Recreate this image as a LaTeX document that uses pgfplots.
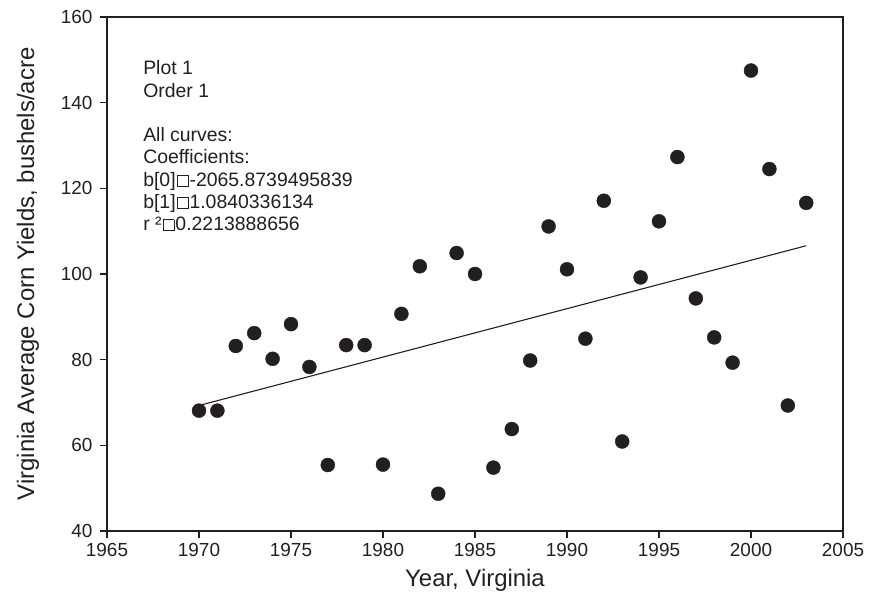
\documentclass[border=0pt]{standalone}
\usepackage{pgfplots}
\pgfplotsset{compat=1.18}
\usepackage{fontspec}
\setmainfont{Liberation Sans}
\definecolor{ink}{HTML}{231F20}
\newcommand\sq{\kern1pt{\fboxrule=0.6pt\fboxsep=0pt\fbox{\rule{0pt}{0.55em}\rule{0.55em}{0pt}}}\kern1pt}
\begin{document}
\begin{tikzpicture}
\begin{axis}[
  name=ax,
  scale only axis,
  width=736bp, height=514bp,
  xmin=1965, xmax=2005, ymin=40, ymax=160,
  xtick={1965,1970,...,2005},
  ytick={40,60,...,160},
  axis line style={ink, line width=1.1pt},
  tick style={ink, line width=1.1pt},
  tick align=outside,
  major tick length=7bp,
  xtick pos=bottom, ytick pos=left,
  /pgf/number format/assume math mode=true,
  /pgf/number format/1000 sep={},
  ticklabel style={font=\fontsize{19}{22}\selectfont, text=ink},
  xticklabel style={yshift=-2bp},
  yticklabel style={xshift=-4bp},
  xlabel={Year, Virginia},
  ylabel={Virginia Average Corn Yields, bushels/acre},
  label style={font=\fontsize{24}{28}\selectfont, text=ink},
  xlabel style={at={(axis description cs:0.5,-0.0953)}, anchor=center},
  ylabel style={at={(axis description cs:-0.1073,0.5)}, anchor=center},
  clip=false,
]
\addplot[only marks, mark=*, mark size=7bp, mark options={fill=ink, draw=ink}] coordinates {
(1970,68.1) (1971,68.1) (1972,83.2) (1973,86.2) (1974,80.2) (1975,88.3)
(1976,78.3) (1977,55.4) (1978,83.4) (1979,83.4) (1980,55.5) (1981,90.7)
(1982,101.8) (1983,48.7) (1984,104.9) (1985,100.0) (1986,54.8) (1987,63.8)
(1988,79.8) (1989,111.1) (1990,101.1) (1991,84.9) (1992,117.1) (1993,60.9)
(1994,99.2) (1995,112.3) (1996,127.3) (1997,94.3) (1998,85.2) (1999,79.3)
(2000,147.5) (2001,124.5) (2002,69.3) (2003,116.6)
};
\addplot[ink, line width=1.1pt] coordinates {(1970,69.3) (2003,106.6)};
\node[anchor=north west, align=left, inner sep=0pt, text=ink,
      font=\fontsize{19.5}{22.3}\selectfont]
  at (rel axis cs:0.049,0.915)
  {Plot 1\\Order 1\\[22.3pt]All curves:\\Coefficients:\\b[0]\sq-2065.8739495839\\b[1]\sq1.0840336134\\r ²\sq0.2213888656};
\end{axis}
\pgfresetboundingbox
\useasboundingbox ([xshift=-107bp,yshift=-84bp]ax.south west) rectangle ([xshift=27bp,yshift=17bp]ax.north east);
\end{tikzpicture}
\end{document}
